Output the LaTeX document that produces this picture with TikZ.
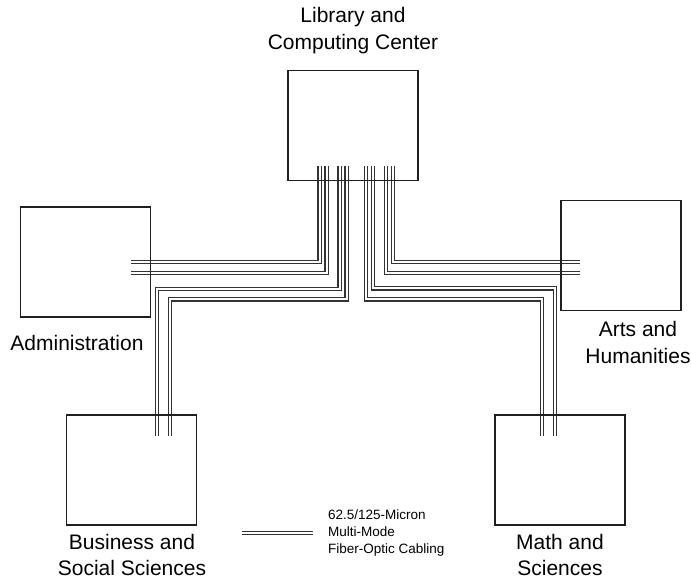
\documentclass[tikz,border=0pt]{standalone}
\usepackage{fontspec}
\setmainfont{Liberation Sans}
\usetikzlibrary{
  backgrounds
}
\definecolor{bldLine}{HTML}{231F20}
\definecolor{fiberLine}{HTML}{333333}
\tikzset{
  building/.style={
    draw=bldLine, line width=1.7pt, minimum width=130pt, minimum height=110pt,
    inner sep=0pt
  },
  bldlabel/.style={font=\fontsize{21}{26.5}\selectfont, align=center, inner sep=0pt},
  cable/.style={draw=fiberLine, line width=1.3pt, double=white, double distance=2pt},
  legendtext/.style={font=\fontsize{13.5}{17}\selectfont, align=left, anchor=west, inner sep=0pt}
}
\begin{document}
\begin{tikzpicture}[x=1pt, y=-1pt]
  \useasboundingbox (0,0) rectangle (691,579);
  % buildings
  \node[building] (lib) at (353,125.5) {};
  \node[building] (adm) at (85.5,262) {};
  \node[building, minimum width=120pt] (art) at (621,255.5) {};
  \node[building] (bus) at (131.5,470) {};
  \node[building] (mat) at (560,470) {};

  \node[bldlabel] (libText) at (353,30.5) {Library and\\Computing Center};
  \node[bldlabel] (admText) at (77,343) {Administration};
  \node[bldlabel] (artText) at (638,342.5) {Arts and\\Humanities};
  \node[bldlabel] (busText) at (132,555) {Business and\\Social Sciences};
  \node[bldlabel] (matText) at (560,555) {Math and\\Sciences};

  % fiber runs
  \begin{scope}[on background layer]
    \draw[cable] ([xshift=-33.5pt,yshift=15pt]lib.south) |- ([xshift=-20pt]adm.east);
    \draw[cable] ([xshift=-26.5pt,yshift=15pt]lib.south) |- ([xshift=-20pt,yshift=-11pt]adm.east);
    \draw[cable] ([xshift=-13.5pt,yshift=15pt]lib.south) -- ++(0,122.5)
      -| ([xshift=25.5pt,yshift=-22pt]bus.north);
    \draw[cable] ([xshift=-6.5pt,yshift=15pt]lib.south) -- ++(0,133)
      -| ([xshift=38.5pt,yshift=-22pt]bus.north);
    \draw[cable] ([xshift=20pt,yshift=15pt]lib.south) -- ++(0,122)
      -| ([xshift=-5pt,yshift=-22pt]mat.north);
    \draw[cable] ([xshift=13pt,yshift=15pt]lib.south) -- ++(0,133)
      -| ([xshift=-18pt,yshift=-22pt]mat.north);
    \draw[cable] ([xshift=40pt,yshift=15pt]lib.south) |- ([xshift=20pt,yshift=-6.5pt]art.west);
    \draw[cable] ([xshift=33pt,yshift=15pt]lib.south) |- ([xshift=20pt,yshift=-17.5pt]art.west);
  \end{scope}

  % legend
  \node[legendtext] (legText) at (328,533) {62.5/125-Micron\\Multi-Mode\\Fiber-Optic Cabling};
  \draw[cable] ([xshift=-15pt]legText.west) -- ++(-71,0);
\end{tikzpicture}
\end{document}
